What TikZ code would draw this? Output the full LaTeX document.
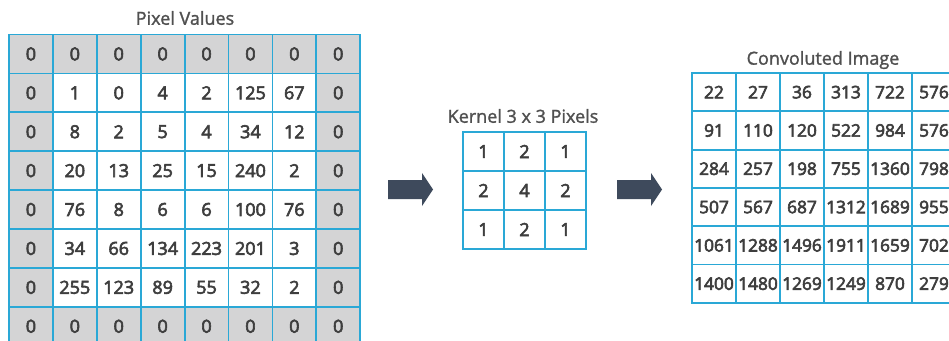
\documentclass[tikz,border=0pt]{standalone}
\usepackage{fontspec}
\setmainfont{Open Sans}
% thicken glyph strokes a little (fill + stroke text rendering)
\newcommand\heavytext[2]{\special{pdf:literal direct 2 Tr #1 w}#2\special{pdf:literal direct 0 Tr}}
\definecolor{gridline}{RGB}{42,168,214}
\definecolor{padfill}{RGB}{212,212,213}
\definecolor{numtext}{RGB}{62,62,62}
\definecolor{titletext}{RGB}{80,80,80}
\definecolor{arrowfill}{RGB}{62,74,92}

\begin{document}
\begin{tikzpicture}[x=1pt,y=-1pt,
  cellbox/.style={draw=gridline, line width=1.8pt, inner sep=0pt,
    text=numtext, anchor=center},
  pixcell/.style={cellbox, minimum width=43.9pt, minimum height=38.9pt,
    font=\fontsize{18}{18}\selectfont},
  kercell/.style={cellbox, minimum width=41pt, minimum height=39pt,
    font=\fontsize{18}{18}\selectfont},
  convcell/.style={cellbox, minimum width=44pt, minimum height=38.3pt,
    font=\fontsize{17.3}{17.3}\selectfont},
  title/.style={text=titletext, font=\fontsize{18}{18}\selectfont, inner sep=0pt},
  bigarrow/.style={fill=arrowfill}]

% page frame
\fill[white] (0,0) rectangle (949,340);
\useasboundingbox (0,0) rectangle (949,340);
\clip (0,0) rectangle (949,340);

% padded input image (8 x 8)
\node[title] (pixtitle) at (185,18) {\heavytext{0.25}{Pixel Values}};
\foreach \row [count=\r from 0] in {
  {0,0,0,0,0,0,0,0},
  {0,1,0,4,2,125,67,0},
  {0,8,2,5,4,34,12,0},
  {0,20,13,25,15,240,2,0},
  {0,76,8,6,6,100,76,0},
  {0,34,66,134,223,201,3,0},
  {0,255,123,89,55,32,2,0},
  {0,0,0,0,0,0,0,0}}{
  \foreach \v [count=\c from 0] in \row {
    \pgfmathtruncatemacro\pad{(\r==0)||(\r==7)||(\c==0)||(\c==7)}
    \ifnum\pad=1 \def\cellfill{padfill}\else\def\cellfill{white}\fi
    \node[pixcell, fill=\cellfill] (px-\r-\c)
      at ({9+43.9*(\c+0.5)},{34.5+38.9*(\r+0.5)}) {\heavytext{0.6}{\v}};
  }
}

% kernel (3 x 3)
\node[title] (kertitle) at (523,116) {\heavytext{0.25}{Kernel 3 x 3 Pixels}};
\foreach \row [count=\r from 0] in {{1,2,1},{2,4,2},{1,2,1}}{
  \foreach \v [count=\c from 0] in \row {
    \node[kercell, fill=white] (k-\r-\c)
      at ({463+41*(\c+0.5)},{132+39*(\r+0.5)}) {\heavytext{0.6}{\v}};
  }
}

% convolution result (6 x 6)
\node[title] (convtitle) at (823,60) {\heavytext{0.25}{Convoluted Image}};
\foreach \row [count=\r from 0] in {
  {22,27,36,313,722,576},
  {91,110,120,522,984,576},
  {284,257,198,755,1360,798},
  {507,567,687,1312,1689,955},
  {1061,1288,1496,1911,1659,702},
  {1400,1480,1269,1249,870,279}}{
  \foreach \v [count=\c from 0] in \row {
    \node[convcell, fill=white] (cv-\r-\c)
      at ({692+44*(\c+0.5)},{73+38.3*(\r+0.5)}) {\heavytext{0.6}{\v}};
  }
}

% block arrows between the stages
\coordinate (arrowA) at (388,189.5);
\coordinate (arrowB) at (617,189.5);
\foreach \a in {arrowA,arrowB}{
  \fill[bigarrow] (\a) ++(0,-9.5) -- ++(34,0) -- ++(0,-7) -- ++(11,16.5)
    -- ++(-11,16.5) -- ++(0,-7) -- ++(-34,0) -- cycle;
}
\end{tikzpicture}
\end{document}
